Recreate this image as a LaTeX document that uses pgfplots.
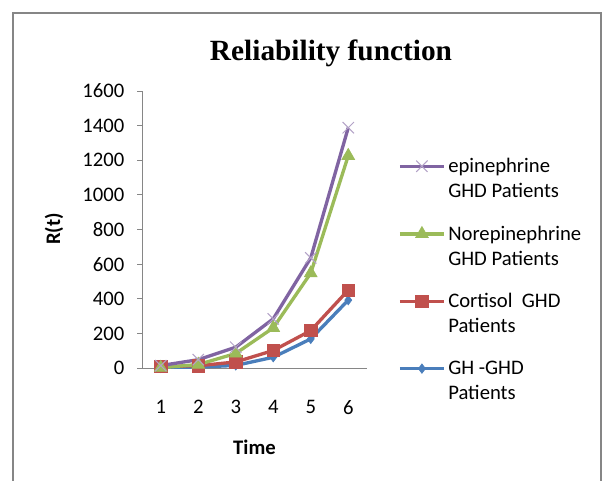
\documentclass[border=0pt]{standalone}
\usepackage{pgfplots}
\pgfplotsset{compat=1.18}
\usepackage{fontspec}
\setmainfont{Carlito}
\newfontfamily\titlefont{Liberation Serif}

\definecolor{epiline}{HTML}{8064A2}
\definecolor{epimark}{HTML}{B3A2C7}
\definecolor{noreline}{HTML}{9BBB59}
\definecolor{cortline}{HTML}{C0504D}
\definecolor{ghline}{HTML}{4A7EBB}
\definecolor{axisgray}{HTML}{868686}

\begin{document}
\begin{tikzpicture}
\clip (0,0) rectangle (452.25pt,360pt);
\draw[axisgray, line width=1.5pt] (9.375pt,350.625pt) rectangle (450.375pt,-20pt);
    \begin{axis}[
        at={(106.5pt,84pt)}, anchor=south west,
        scale only axis,
        width=168.75pt, height=207.75pt,
        xmin=0.5, xmax=6.5,
        ymin=0, ymax=1600,
        xtick={1,2,3,4,5,6},
        ytick={0,200,400,600,800,1000,1200,1400,1600},
        axis x line=bottom, axis y line=left,
        axis line style={axisgray, line width=0.75pt, -},
        x axis line style={-}, y axis line style={-},
        tick align=outside,
        major tick length=3.75pt,
        xtick style={draw=none},
        ytick style={axisgray, line width=0.75pt},
        /pgf/number format/assume math mode=true,
        /pgf/number format/1000 sep={},
        ticklabel style={font=\fontsize{15.5}{18}\selectfont},
        xticklabel style={yshift=-17pt},
        yticklabel style={xshift=-6pt},
        title={Reliability function},
        every axis title shift=0pt,
        title style={at={(rel axis cs:0.84,1.11)}, anchor=base,
            font=\titlefont\bfseries\fontsize{22}{26}\selectfont},
        xlabel={Time},
        ylabel={R(t)},
        every axis x label/.style={at={(rel axis cs:0.5,-0.285)}, anchor=center,
            font=\bfseries\fontsize{15.5}{18}\selectfont},
        every axis y label/.style={at={(rel axis cs:-0.391,0.502)}, anchor=center, rotate=90,
            font=\bfseries\fontsize{15.5}{18}\selectfont},
        reverse legend,
        legend cell align=left,
        legend image code/.code={
            \draw[mark repeat=2, mark phase=2, yshift=9.4pt]
                plot coordinates {(0cm,0cm) (0.58cm,0cm) (1.16cm,0cm)};
        },
        legend style={
            at={(rel axis cs:1.12,0.778)}, anchor=north west,
            draw=none, fill=none,
            cells={anchor=west, align=left},
            row sep=15.7pt,
            font=\fontsize{15.5}{18.75}\selectfont,
        },
    ]
    % GH -GHD
    \addplot[ghline, line width=2.5pt, mark=diamond*, mark size=3.5pt,
        mark options={ghline, line width=0.5pt}]
        coordinates {(1,1)(2,5)(3,15)(4,62)(5,168)(6,392)};
    % Cortisol
    \addplot[cortline, line width=2.5pt, mark=square*, mark size=4.6pt,
        mark options={cortline, line width=0.5pt}]
        coordinates {(1,8)(2,13)(3,35)(4,101)(5,216)(6,450)};
    % Norepinephrine
    \addplot[noreline, line width=2.5pt, mark=triangle*, mark size=5.5pt,
        mark options={noreline, line width=0.5pt}]
        coordinates {(1,2)(2,20)(3,84)(4,232)(5,548)(6,1226)};
    % epinephrine
    \addplot[epiline, line width=2.5pt, mark=x, mark size=6pt,
        mark options={epimark, line width=0.75pt}]
        coordinates {(1,14)(2,48)(3,120)(4,284)(5,636)(6,1388)};
    \legend{GH -GHD\\Patients, Cortisol\ \ GHD\\Patients, Norepinephrine\\GHD Patients, epinephrine\\GHD Patients}
    \end{axis}
\end{tikzpicture}
\end{document}
